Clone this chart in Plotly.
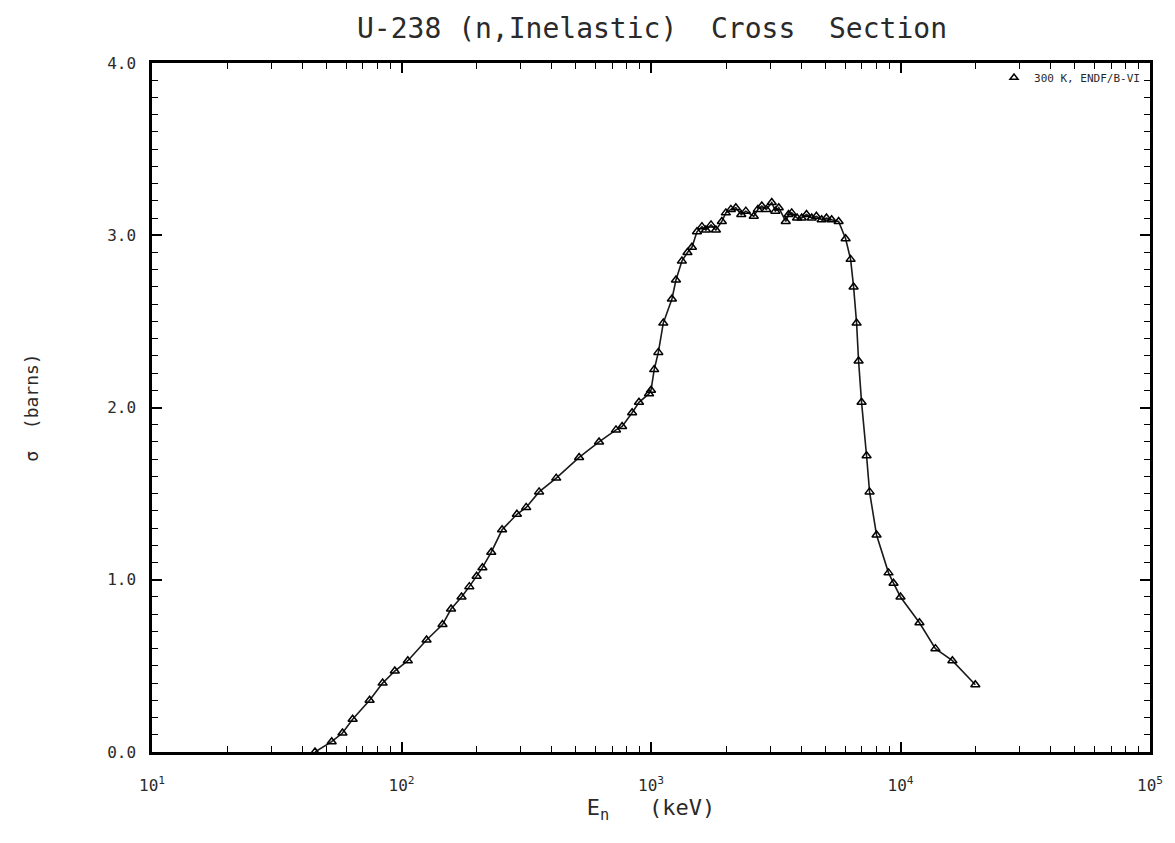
import plotly.graph_objects as go

# Data (energy in keV, cross section in barns)
energy_kev = [45, 52.5, 58, 63.7, 74.5, 84, 94, 106, 126, 146, 158, 174, 187, 200, 211,
              229, 253, 290, 316, 356, 417, 515, 619, 724, 766, 840, 895, 982, 1000,
              1030, 1070, 1120, 1213, 1259, 1330, 1400, 1459, 1528, 1600, 1660, 1740, 1820,
              1923, 1995, 2090, 2188, 2300, 2399, 2582, 2680, 2780, 2900, 3048, 3150, 3251,
              3467, 3560, 3664, 3850, 4018, 4200, 4406, 4600, 4831, 5050, 5297, 5649,
              6026, 6310, 6486, 6668, 6792, 6982, 7311, 7516, 8017, 8954, 9376, 10000,
              11912, 13804, 16144, 19953]
sigma_b = [0.00, 0.06, 0.11, 0.19, 0.30, 0.40, 0.47, 0.53, 0.65, 0.74, 0.83, 0.90, 0.96, 1.02, 1.07,
           1.16, 1.29, 1.38, 1.42, 1.51, 1.59, 1.71, 1.80, 1.87, 1.89, 1.97, 2.03, 2.08, 2.10,
           2.22, 2.32, 2.49, 2.63, 2.74, 2.85, 2.90, 2.93, 3.02, 3.05, 3.03, 3.06, 3.03,
           3.08, 3.13, 3.15, 3.16, 3.12, 3.14, 3.11, 3.15, 3.17, 3.15, 3.19, 3.14, 3.16,
           3.08, 3.12, 3.13, 3.10, 3.10, 3.12, 3.10, 3.11, 3.09, 3.10, 3.09, 3.08,
           2.98, 2.86, 2.70, 2.49, 2.27, 2.03, 1.72, 1.51, 1.26, 1.04, 0.98, 0.90,
           0.75, 0.60, 0.53, 0.39]

x_tickvals = [10, 100, 1000, 10000, 100000]
x_ticktext = ["10<sup>1</sup>", "10<sup>2</sup>", "10<sup>3</sup>", "10<sup>4</sup>", "10<sup>5</sup>"]
y_tickvals = [0, 1, 2, 3, 4]
y_ticktext = ["0.0", "1.0", "2.0", "3.0", "4.0"]

MONO = "DejaVu Sans Mono"
INK = "#2a2a2a"

fig = go.Figure()
fig.add_trace(go.Scatter(
    x=energy_kev, y=sigma_b, mode="lines+markers",
    line=dict(color="#1a1a1a", width=1.6),
    marker=dict(symbol="triangle-up-open", size=8, color="black", line=dict(width=1.5, color="black")),
    showlegend=False,
))
fig.add_trace(go.Scatter(
    x=[None], y=[None], mode="markers", name="300 K, ENDF/B-VI",
    marker=dict(symbol="triangle-up-open", size=7, color="black", line=dict(width=1.5, color="black")),
))

fig.update_layout(
    width=1167, height=835,
    paper_bgcolor="white", plot_bgcolor="white",
    margin=dict(l=144, r=23, t=55, b=91),
    title=dict(text="U-238 (n,Inelastic)  Cross  Section", x=0.5 + (144 - 23) / 2 / 1167, xanchor="center",
               xref="container", yref="container", y=1 - 20 / 835, yanchor="middle",
               font=dict(family=MONO, size=28, color=INK)),
    font=dict(family=MONO, color=INK),
    legend=dict(x=0.995, y=1.0, xanchor="right", yanchor="top", bgcolor="rgba(0,0,0,0)",
                font=dict(family=MONO, size=11, color=INK), itemwidth=30),
    xaxis=dict(
        type="log", range=[1, 5], tickvals=x_tickvals, ticktext=x_ticktext,
        ticks="inside", ticklen=10, tickwidth=1.5, tickcolor="black",
        showline=True, linecolor="black", linewidth=2.5, mirror="ticks",
        showgrid=False, zeroline=False, ticklabelstandoff=17,
        tickfont=dict(family=MONO, size=16, color=INK),
        minor=dict(ticks="inside", ticklen=6, tickwidth=1.2, tickcolor="black", dtick="D1", showgrid=False),
        title=dict(text="E<sub>n</sub>   (keV)", font=dict(family=MONO, size=22, color=INK), standoff=0),
    ),
    yaxis=dict(
        range=[0, 4], tickvals=y_tickvals, ticktext=y_ticktext,
        ticks="inside", ticklen=10, tickwidth=1.5, tickcolor="black",
        showline=True, linecolor="black", linewidth=2.5, mirror="ticks",
        showgrid=False, zeroline=False, ticklabelstandoff=10,
        tickfont=dict(family=MONO, size=16, color=INK),
        minor=dict(ticks="inside", ticklen=6, tickwidth=1.2, tickcolor="black", dtick=0.1, showgrid=False),
        title=dict(text="σ  (barns)", font=dict(family=MONO, size=18, color=INK), standoff=64),
    ),
)

fig.write_html("out.html")
